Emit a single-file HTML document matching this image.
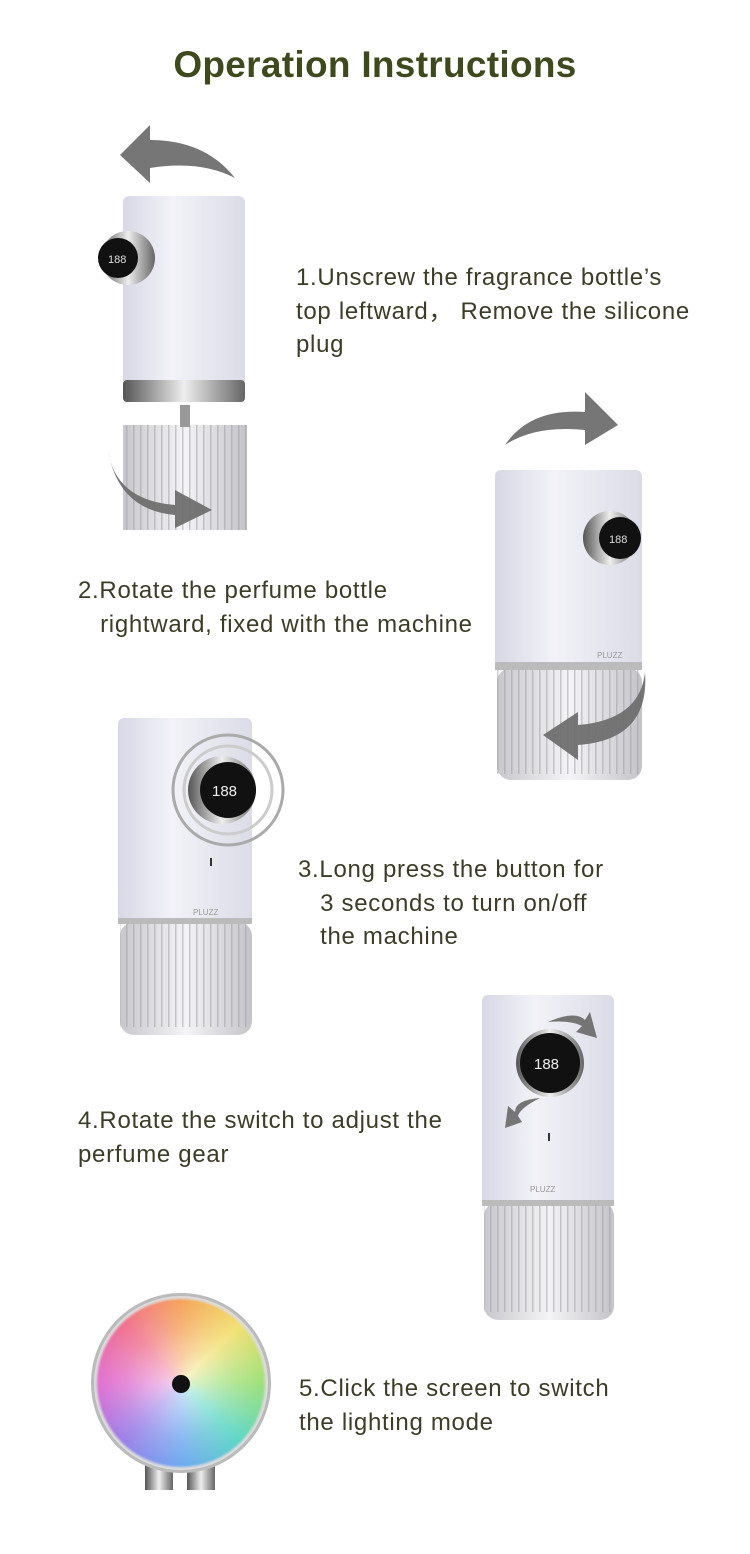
<!DOCTYPE html>
<html><head><meta charset="utf-8"><style>
html,body{margin:0;padding:0;background:#fff;}
body{width:750px;height:1554px;position:relative;overflow:hidden;font-family:"Liberation Sans",sans-serif;}
.t{position:absolute;color:#3c3c28;font-size:24px;letter-spacing:0.7px;line-height:33.5px;white-space:nowrap;}
h1{position:absolute;left:0;width:750px;top:44px;margin:0;text-align:center;font-size:37px;font-weight:bold;color:#3e4a1e;letter-spacing:0.3px;}
.abs{position:absolute;}
</style></head><body>
<h1>Operation Instructions</h1>

<svg class="abs" style="left:0;top:0" width="750" height="1554">
<defs>
<linearGradient id="body" x1="0" x2="1"><stop offset="0" stop-color="#d8d8e6"/><stop offset="0.4" stop-color="#f2f2f8"/><stop offset="1" stop-color="#dcdce8"/></linearGradient>
<linearGradient id="rib" x1="0" x2="1"><stop offset="0" stop-color="#c8c8cc"/><stop offset="0.5" stop-color="#f4f4f6"/><stop offset="1" stop-color="#c4c4c8"/></linearGradient>
<pattern id="ribs" width="7" height="10" patternUnits="userSpaceOnUse"><rect width="7" height="10" fill="none"/><rect width="1.5" height="10" fill="#9a9aa2" opacity="0.5"/></pattern>
<linearGradient id="chrome" x1="0" x2="1"><stop offset="0" stop-color="#555"/><stop offset="0.5" stop-color="#eee"/><stop offset="1" stop-color="#666"/></linearGradient>
</defs>

<!-- step1 device -->
<rect x="123" y="425" width="124" height="105" fill="url(#rib)"/><rect x="123" y="425" width="124" height="105" fill="url(#ribs)"/>
<rect x="180" y="405" width="10" height="22" fill="#999"/>
<rect x="123" y="196" width="122" height="190" rx="6" fill="url(#body)"/>
<rect x="123" y="380" width="122" height="22" rx="4" fill="url(#chrome)"/>
<circle cx="128" cy="258" r="27" fill="url(#chrome)"/><circle cx="118" cy="258" r="20" fill="#111"/>
<text x="108" y="263" font-size="11" fill="#ddd" font-family="Liberation Sans">188</text>

<!-- step2 device -->
<rect x="497" y="668" width="145" height="112" rx="14" fill="url(#rib)"/><rect x="497" y="668" width="145" height="106" fill="url(#ribs)"/>
<rect x="495" y="470" width="147" height="200" rx="6" fill="url(#body)"/>
<rect x="495" y="662" width="147" height="8" fill="#bbb"/>
<circle cx="610" cy="538" r="27" fill="url(#chrome)"/><circle cx="620" cy="538" r="21" fill="#111"/>
<text x="609" y="543" font-size="11" fill="#ddd">188</text>
<text x="597" y="658" font-size="8" fill="#999">PLUZZ</text>

<!-- step3 device -->
<rect x="120" y="922" width="132" height="113" rx="14" fill="url(#rib)"/><rect x="120" y="922" width="132" height="105" fill="url(#ribs)"/>
<rect x="118" y="718" width="134" height="206" rx="6" fill="url(#body)"/>
<rect x="118" y="918" width="134" height="6" fill="#bbb"/>
<circle cx="228" cy="790" r="55" fill="none" stroke="#aaa" stroke-width="3"/>
<circle cx="228" cy="790" r="44" fill="none" stroke="#ccc" stroke-width="3"/>
<circle cx="222" cy="790" r="34" fill="url(#chrome)"/><circle cx="228" cy="790" r="28" fill="#111"/>
<text x="212" y="796" font-size="15" fill="#eee">188</text>
<rect x="210" y="858" width="2" height="8" fill="#333"/>
<text x="193" y="915" font-size="8" fill="#999">PLUZZ</text>

<!-- step4 device -->
<rect x="484" y="1202" width="130" height="118" rx="14" fill="url(#rib)"/><rect x="484" y="1202" width="130" height="110" fill="url(#ribs)"/>
<rect x="482" y="995" width="132" height="210" rx="6" fill="url(#body)"/>
<rect x="482" y="1200" width="132" height="6" fill="#bbb"/>
<circle cx="550" cy="1063" r="34" fill="url(#chrome)"/><circle cx="550" cy="1063" r="30" fill="#111"/>
<text x="534" y="1069" font-size="15" fill="#eee">188</text>
<rect x="548" y="1133" width="2" height="8" fill="#333"/>
<text x="530" y="1192" font-size="8" fill="#999">PLUZZ</text>

<!-- step5 -->
<rect x="145" y="1465" width="28" height="25" fill="url(#chrome)"/>
<rect x="187" y="1465" width="28" height="25" fill="url(#chrome)"/>

<g fill="#6f6f6f" opacity="0.95">
<path d="M120 155 L150 125 L150 140 Q205 140 235 178 Q200 160 150 168 L150 183 Z"/>
<path d="M108 450 Q115 500 175 505 L175 490 L212 510 L175 528 L175 515 Q118 510 108 450Z"/>
<path d="M505 445 Q530 408 585 412 L585 392 L618 425 L585 445 L585 430 Q535 425 505 445Z"/>
<path d="M645 672 Q640 720 578 725 L578 712 L543 735 L578 760 L578 745 Q650 740 645 672Z"/>
<path d="M548 1022 Q575 1010 585 1020 L590 1012 L597 1038 L576 1032 L582 1026 Q570 1020 548 1022Z"/>
<path d="M540 1098 Q515 1100 515 1112 L508 1106 L505 1128 L522 1122 L518 1116 Q520 1108 540 1098Z"/>
</g>
</svg>
<div class="abs" style="left:91px;top:1293px;width:180px;height:180px;border-radius:50%;background:#ddd;box-shadow:inset 0 0 0 3px #bbb;"></div>
<div class="abs" style="left:97px;top:1299px;width:168px;height:168px;border-radius:50%;background:conic-gradient(#f5a35a,#f2e070,#9ee07a,#5cd6c6,#6fa8f0,#9a80e8,#e070d0,#f07090,#f5a35a);filter:blur(1px);"></div>
<div class="abs" style="left:97px;top:1299px;width:168px;height:168px;border-radius:50%;background:radial-gradient(circle,rgba(255,255,255,0.7) 0,rgba(255,255,255,0.2) 45%,rgba(255,255,255,0) 70%);"></div>
<div class="abs" style="left:172px;top:1375px;width:18px;height:18px;border-radius:50%;background:#111;"></div>

<div class="t" style="left:296px;top:261px">1.Unscrew the fragrance bottle’s<br>top leftward， Remove the silicone<br>plug</div>
<div class="t" style="left:78px;top:574px">2.Rotate the perfume bottle<br>&nbsp;&nbsp;&nbsp;rightward, fixed with the machine</div>
<div class="t" style="left:298px;top:853px">3.Long press the button for<br>&nbsp;&nbsp;&nbsp;3 seconds to turn on/off<br>&nbsp;&nbsp;&nbsp;the machine</div>
<div class="t" style="left:78px;top:1104px">4.Rotate the switch to adjust the<br>perfume gear</div>
<div class="t" style="left:299px;top:1372px">5.Click the screen to switch<br>the lighting mode</div>
</body></html>
